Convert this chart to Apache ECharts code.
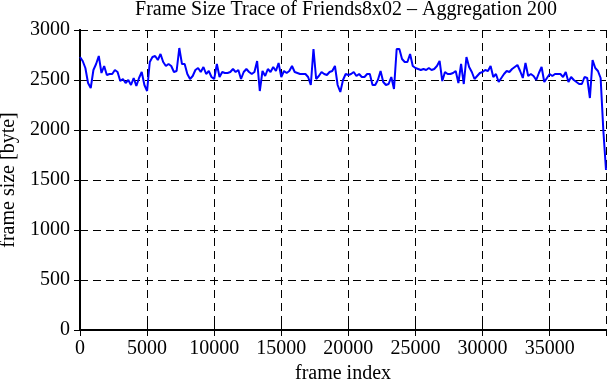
<!DOCTYPE html>
<html>
<head>
<meta charset="utf-8">
<script src="https://cdn.jsdelivr.net/npm/echarts@6/dist/echarts.min.js"></script>
<style>
    html, body { margin: 0; padding: 0; background: #fff; }
</style>
</head>
<body>
<div id="main" style="width: 611px; height: 380px;"></div>
<script>
// aggregation step (frames per point) and mean frame size per block
const aggStep = 200;
const frameSize = [
    2730, 2690, 2620, 2470, 2420, 2600, 2660, 2740, 2570, 2640,
    2550, 2560, 2560, 2600, 2580, 2490, 2510, 2470, 2500, 2450,
    2520, 2440, 2520, 2580, 2450, 2390, 2680, 2730, 2740, 2700,
    2760, 2680, 2640, 2660, 2640, 2580, 2590, 2820, 2660, 2660,
    2560, 2510, 2540, 2600, 2620, 2580, 2630, 2560, 2590, 2530,
    2510, 2660, 2530, 2580, 2570, 2570, 2580, 2610, 2580, 2600,
    2510, 2580, 2610, 2580, 2560, 2580, 2690, 2390, 2590, 2540,
    2610, 2580, 2630, 2590, 2670, 2530, 2590, 2570, 2590, 2640,
    2580, 2570, 2560, 2560, 2560, 2530, 2450, 2810, 2510, 2540,
    2580, 2560, 2550, 2580, 2590, 2640, 2450, 2380, 2500, 2560,
    2550, 2560, 2580, 2540, 2560, 2530, 2530, 2560, 2560, 2450,
    2450, 2500, 2590, 2480, 2450, 2460, 2530, 2410, 2810, 2810,
    2710, 2680, 2680, 2760, 2640, 2620, 2610, 2600, 2610, 2600,
    2620, 2600, 2610, 2640, 2690, 2490, 2580, 2560, 2560, 2570,
    2590, 2470, 2660, 2460, 2730, 2630, 2580, 2510, 2540, 2570,
    2580, 2600, 2590, 2640, 2530, 2560, 2480, 2520, 2560, 2590,
    2580, 2610, 2630, 2650, 2590, 2520, 2670, 2540, 2560, 2540,
    2500, 2570, 2630, 2480, 2520, 2560, 2540, 2560, 2560, 2560,
    2530, 2580, 2480, 2530, 2500, 2480, 2460, 2460, 2530, 2520,
    2320, 2700, 2620, 2590, 2520, 2000, 1600
];
const xTicks = [0, 5000, 10000, 15000, 20000, 25000, 30000, 35000];
const yTicks = [0, 500, 1000, 1500, 2000, 2500, 3000];

const fontName = 'Liberation Serif';
const black = '#000000';
const lineBlue = '#0000ff';

let points = frameSize.map((v, i) => [i * aggStep, v]);
let xMax = (frameSize.length - 1) * aggStep;

let chart = echarts.init(document.getElementById('main'));
chart.setOption({
    animation: false,
    title: {
        text: 'Frame Size Trace of Friends8x02 \u2013 Aggregation 200',
        left: 346,
        top: 0,
        padding: 0,
        textAlign: 'center',
        textStyle: {
            color: black,
            fontFamily: fontName,
            fontWeight: 'normal',
            fontSize: 20,
        }
    },
    grid: {
        left: 80,
        right: 5,
        top: 30,
        bottom: 50,
        containLabel: false,
        outerBoundsMode: 'none',
    },
    xAxis: [
        {
            type: 'value',
            position: 'bottom',
            min: xTicks[0],
            max: xMax,
            interval: xTicks[1] - xTicks[0],
            name: 'frame index',
            nameLocation: 'middle',
            nameGap: 32,
            nameTextStyle: { color: black, fontFamily: fontName, fontSize: 20 },
            axisLine: { show: true, lineStyle: { color: black, width: 2 } },
            axisTick: { show: true, inside: true, length: 6, lineStyle: { color: black, width: 1 } },
            axisLabel: {
                color: black,
                fontFamily: fontName,
                fontSize: 20,
                margin: 9,
                showMaxLabel: false,
                formatter: v => (xTicks.indexOf(v) >= 0 ? String(v) : ''),
            },
            splitLine: { show: true, lineStyle: { color: black, width: 1, type: [8, 5] } },
        },
        {
            type: 'value',
            position: 'top',
            min: xTicks[0],
            max: xMax,
            interval: xTicks[1] - xTicks[0],
            axisLine: { show: true, lineStyle: { color: black, width: 2 } },
            axisTick: { show: true, inside: true, length: 6, lineStyle: { color: black, width: 1 } },
            axisLabel: { show: false },
            splitLine: { show: false },
        }
    ],
    yAxis: [
        {
            type: 'value',
            position: 'left',
            min: yTicks[0],
            max: yTicks[yTicks.length - 1],
            interval: yTicks[1] - yTicks[0],
            name: 'frame size [byte]',
            nameLocation: 'middle',
            nameGap: 54,
            nameTextStyle: { color: black, fontFamily: fontName, fontSize: 20 },
            axisLine: { show: true, lineStyle: { color: black, width: 2 } },
            axisTick: { show: true, inside: true, length: 6, lineStyle: { color: black, width: 1 } },
            axisLabel: {
                color: black,
                fontFamily: fontName,
                fontSize: 20,
                margin: 10,
                formatter: v => String(v),
            },
            splitLine: { show: true, lineStyle: { color: black, width: 1, type: [8, 5] } },
        },
        {
            type: 'value',
            position: 'right',
            min: yTicks[0],
            max: yTicks[yTicks.length - 1],
            interval: yTicks[1] - yTicks[0],
            axisLine: { show: true, lineStyle: { color: black, width: 2 } },
            axisTick: { show: true, inside: true, length: 6, lineStyle: { color: black, width: 1 } },
            axisLabel: { show: false },
            splitLine: { show: false },
        }
    ],
    series: [{
        name: 'frame size',
        type: 'line',
        data: points,
        showSymbol: false,
        lineStyle: { color: lineBlue, width: 2 },
        itemStyle: { color: lineBlue },
    }]
});
</script>
</body>
</html>
